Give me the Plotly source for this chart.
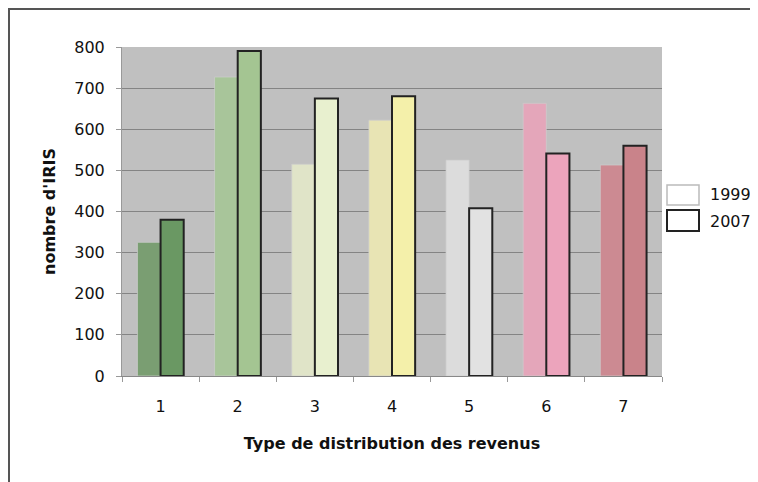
import plotly.graph_objects as go

categories = ["1", "2", "3", "4", "5", "6", "7"]
values_1999 = [325, 727, 515, 622, 525, 663, 513]
values_2007 = [380, 790, 675, 680, 408, 541, 560]
colors_1999 = ["#7a9e72", "#a8c59a", "#e0e4c8", "#e8e4b4", "#dcdcdc", "#e4a6ba", "#cc8a92"]
colors_2007 = ["#6a9863", "#a4c592", "#e8f0cf", "#f4f0aa", "#e2e2e2", "#eca4bc", "#c9838a"]
y_ticks = [0, 100, 200, 300, 400, 500, 600, 700, 800]
series_names = ["1999", "2007"]

# page has an 8px body margin; work in page coordinates and subtract it
OFF = 8
W, H = 758 - OFF, 482 - OFF
L, R, T, B = 122 - OFF, 662 - OFF, 47 - OFF, 376 - OFF


def px(x):
    return (x - OFF - L) / (R - L)


def py(y):
    return (B - (y - OFF)) / (B - T)


FONT = "DejaVu Sans, Verdana, sans-serif"
FS = 16

fig = go.Figure()
fig.add_trace(go.Bar(
    x=categories, y=values_1999, name=series_names[0],
    width=0.30, offset=-0.30,
    marker=dict(color=colors_1999, line=dict(color="rgba(205,205,205,0.7)", width=1)),
    showlegend=False,
))
fig.add_trace(go.Bar(
    x=categories, y=values_2007, name=series_names[1],
    width=0.30, offset=0.0,
    marker=dict(color=colors_2007, line=dict(color="#222222", width=2)),
    showlegend=False,
))

shapes = [
    # outer frame
    dict(type="rect", xref="paper", yref="paper",
         x0=px(9), x1=px(780), y0=py(9), y1=py(500),
         line=dict(color="#555555", width=2), fillcolor="rgba(0,0,0,0)", layer="below"),
    # legend boxes
    dict(type="rect", xref="paper", yref="paper",
         x0=px(667), x1=px(699), y0=py(185), y1=py(205),
         line=dict(color="#bbbbbb", width=1.5), fillcolor="white"),
    dict(type="rect", xref="paper", yref="paper",
         x0=px(667), x1=px(699), y0=py(210), y1=py(231),
         line=dict(color="#222222", width=2), fillcolor="white"),
]
annotations = [
    dict(text=series_names[0], xref="paper", yref="paper", x=px(708), y=py(194),
         xanchor="left", yanchor="middle", showarrow=False,
         font=dict(family=FONT, size=FS, color="#111111")),
    dict(text=series_names[1], xref="paper", yref="paper", x=px(708), y=py(221),
         xanchor="left", yanchor="middle", showarrow=False,
         font=dict(family=FONT, size=FS, color="#111111")),
]

fig.update_layout(
    width=W, height=H,
    margin=dict(l=L, r=W - R, t=T, b=H - B, pad=0),
    paper_bgcolor="white", plot_bgcolor="#c0c0c0",
    barmode="overlay",
    showlegend=False,
    font=dict(family=FONT, size=FS, color="#111111"),
    shapes=shapes, annotations=annotations,
    xaxis=dict(
        type="category", tickson="boundaries", ticks="outside", ticklen=5,
        tickcolor="#999999", showline=True, linecolor="#888888", linewidth=1,
        showgrid=False, tickfont=dict(size=FS), ticklabelstandoff=16,
        title=dict(text="<b>Type de distribution des revenus</b>",
                   font=dict(size=FS), standoff=22),
    ),
    yaxis=dict(
        range=[0, 800], tickvals=y_ticks, ticks="outside", ticklen=5,
        tickcolor="#999999", showline=True, linecolor="#999999", linewidth=1,
        showgrid=True, gridcolor="#848484", gridwidth=1, zeroline=False,
        tickfont=dict(size=FS), ticklabelstandoff=8,
        title=dict(text="<b>nombre d'IRIS</b>", font=dict(size=FS), standoff=14),
    ),
)

fig.write_html("out.html")
